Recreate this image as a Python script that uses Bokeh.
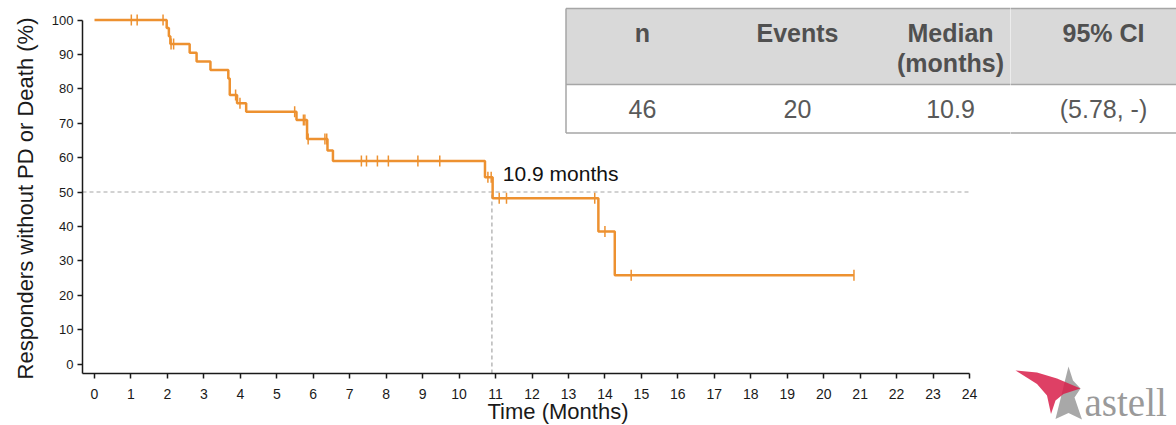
import math

from bokeh.core.properties import value
from bokeh.embed import file_html
from bokeh.layouts import row
from bokeh.models import ColumnDataSource, FixedTicker, Range1d, Title
from bokeh.plotting import figure
from bokeh.resources import INLINE

# Kaplan-Meier curve: time of each drop and level after it
step_times = [0, 1.98, 2.04, 2.08, 2.61, 2.80, 3.18, 3.67, 3.71, 3.91, 4.16,
              5.54, 5.83, 6.39, 6.54, 10.71, 10.92, 13.82, 14.27, 20.83]
step_levels = [100, 97.7, 95.3, 93.0, 90.5, 87.9, 85.5, 83.0, 78.2, 75.8, 73.3,
               70.9, 65.4, 62.1, 59.0, 54.3, 48.2, 38.5, 25.8, 25.8]
censor_times = [1.01, 1.17, 1.88, 2.10, 2.17, 3.87, 3.99, 5.49, 5.73, 5.77, 5.86,
                6.32, 6.37, 7.32, 7.46, 7.76, 8.06, 8.87, 9.47, 10.79, 10.88,
                11.10, 11.30, 13.72, 14.00, 14.72, 20.83]
median_time = 10.9
median_level = 50

x_ticks = list(range(0, 25))
y_ticks = list(range(0, 101, 10))

table_head1 = ["n", "Events", "Median", "95% CI"]
table_head2 = ["", "", "(months)", ""]
table_values = ["46", "20", "10.9", "(5.78, -)"]

ORANGE = "#ED9130"
FONT = "Liberation Sans"

# page pixel layout
W, H = 1176, 425
split_x = 1010          # main figure ends here, side figure (table end + logo) begins
frame_left, frame_top, frame_bottom = 82, 0, 373
x0_px, px_per_month = 94, 36.46
y0_px, px_per_unit = 363.5, 3.44
col_x = [642, 797, 950, 1103]
tbl_left, tbl_top, tbl_mid, tbl_bottom = 565.5, 8, 84, 132.5


def level_at(t):
    lvl = step_levels[0]
    for st, sl in zip(step_times, step_levels):
        if st <= t:
            lvl = sl
    return lvl


def no_align(fig):
    if hasattr(fig, "frame_align"):
        fig.frame_align = False


def draw_table(fig, lo, hi, **rn):
    # background and rules go in both figures; each text only where it fits
    fig.quad(left=[tbl_left], right=[W + 20], top=[tbl_top], bottom=[tbl_mid],
             fill_color="#D9D9D9", line_color=None, **rn)
    fig.quad(left=[tbl_left], right=[W + 20], top=[tbl_mid], bottom=[tbl_bottom],
             fill_color="white", line_color=None, **rn)
    for yy in (tbl_top, tbl_mid, tbl_bottom):
        fig.line([tbl_left, W + 20], [yy, yy], line_color="#A6A6A6", line_width=1.5, **rn)
    fig.line([tbl_left, tbl_left], [tbl_top, tbl_bottom], line_color="#A6A6A6", line_width=1.5, **rn)

    keep = [i for i, cx in enumerate(col_x) if lo < cx < hi]
    xs = [col_x[i] for i in keep]
    head1 = [table_head1[i] for i in keep]
    head2 = [table_head2[i] for i in keep if table_head2[i]]
    x2 = [col_x[i] for i in keep if table_head2[i]]
    vals = [table_values[i] for i in keep]
    fig.text(x=xs, y=[32] * len(xs), text=head1, text_align="center", text_baseline="middle",
             text_font=value(FONT), text_font_style="bold", text_font_size="25px",
             text_color="#505050", **rn)
    if head2:
        fig.text(x=x2, y=[62] * len(x2), text=head2, text_align="center", text_baseline="middle",
                 text_font=value(FONT), text_font_style="bold", text_font_size="25px",
                 text_color="#505050", **rn)
    fig.text(x=xs, y=[108] * len(xs), text=vals, text_align="center", text_baseline="middle",
             text_font=value(FONT), text_font_size="25px", text_color="#595959", **rn)


x_lo = (frame_left - x0_px) / px_per_month
x_hi = (split_x - x0_px) / px_per_month
y_lo = (y0_px - frame_bottom) / px_per_unit
y_hi = (y0_px - frame_top) / px_per_unit

p = figure(width=split_x, height=H, x_range=Range1d(x_lo, x_hi), y_range=Range1d(y_lo, y_hi),
           output_backend="svg", toolbar_location=None,
           min_border_left=frame_left, min_border_right=0, min_border_top=frame_top,
           min_border_bottom=H - frame_bottom)
no_align(p)
p.extra_x_ranges = {"px": Range1d(frame_left, split_x)}
p.extra_y_ranges = {"px": Range1d(frame_bottom, frame_top)}
p.grid.visible = False
p.outline_line_color = None
p.background_fill_color = "white"
p.border_fill_color = "white"

p.xaxis.ticker = FixedTicker(ticks=x_ticks)
p.yaxis.ticker = FixedTicker(ticks=y_ticks)
p.xaxis.bounds = (x_lo, x_ticks[-1])
p.yaxis.bounds = (y_lo, y_ticks[-1])
for ax in (p.xaxis, p.yaxis):
    ax.axis_line_width = 1.5
    ax.axis_line_color = "#1a1a1a"
    ax.major_tick_line_color = "#1a1a1a"
    ax.major_tick_line_width = 1.5
    ax.major_tick_out = 5
    ax.major_tick_in = 0
    ax.minor_tick_out = 0
    ax.minor_tick_in = 0
    ax.major_label_text_font = FONT
    ax.major_label_text_color = "#1a1a1a"
p.xaxis.major_label_text_font_size = "14px"
p.yaxis.major_label_text_font_size = "13px"
p.xaxis.major_label_standoff = 10
p.yaxis.major_label_standoff = 4

# axis titles as panel titles, so they can sit where the reference has them
p.add_layout(Title(text="Responders without PD or Death (%)", align="right", offset=17,
                   vertical_align="middle", standoff=19, text_font=FONT,
                   text_font_style="normal", text_font_size="22px", text_color="#1a1a1a"), "left")
p.add_layout(Title(text="Time (Months)", align="left", offset=405, vertical_align="top",
                   standoff=-6, text_font=FONT, text_font_style="normal",
                   text_font_size="22px", text_color="#1a1a1a"), "below")

draw_table(p, frame_left, split_x, x_range_name="px", y_range_name="px")

# median guides
p.line([x_lo, x_ticks[-1]], [median_level, median_level], line_color="#A6A6A6",
       line_width=1.2, line_dash="4 3")
p.line([median_time, median_time], [y_lo, median_level], line_color="#A6A6A6",
       line_width=1.2, line_dash="4 3")

p.step(x=step_times, y=step_levels, mode="after", line_color=ORANGE, line_width=2.5)
cens = ColumnDataSource(dict(x=censor_times, y=[level_at(t) for t in censor_times]))
p.scatter(x="x", y="y", source=cens, marker="dash", angle=math.pi / 2, size=11,
          line_color=ORANGE, line_width=1.5)

p.text(x=[median_time + 0.3], y=[median_level + 5.3], text=["10.9 months"], text_align="left",
       text_baseline="middle", text_font=value(FONT), text_font_size="21px", text_color="#111111")

# side figure: right end of the table and the logo
s = figure(frame_width=W - split_x, frame_height=H, x_range=Range1d(split_x, W),
           y_range=Range1d(H, 0), x_axis_type=None, y_axis_type=None,
           output_backend="svg", toolbar_location=None, min_border=0)
no_align(s)
s.grid.visible = False
s.outline_line_color = None
s.background_fill_color = "white"
s.border_fill_color = "white"
draw_table(s, split_x, W)

gray_x = [1068, 1072.5, 1080, 1074, 1081.5, 1068, 1055, 1060, 1064]
gray_y = [366, 380, 388, 397, 419, 412.5, 418.5, 398.5, 382]
red_x = [1015, 1036.5, 1056.5, 1080, 1063, 1055, 1050.5, 1046.5, 1036.5]
red_y = [370, 372, 378, 388, 393.5, 400, 413.5, 395, 383.5]
s.patch(gray_x, gray_y, fill_color="#A8A8A8", line_color=None)
s.patch(red_x, red_y, fill_color="#D81E4A", fill_alpha=0.85, line_color=None)
s.text(x=[1084], y=[402], text=["astell"], text_align="left", text_baseline="middle",
       text_font=value("Liberation Serif"), text_font_size="39px", text_color="#9A9A9A")

layout = row(p, s)
open("out.html", "w").write(file_html(layout, INLINE))
